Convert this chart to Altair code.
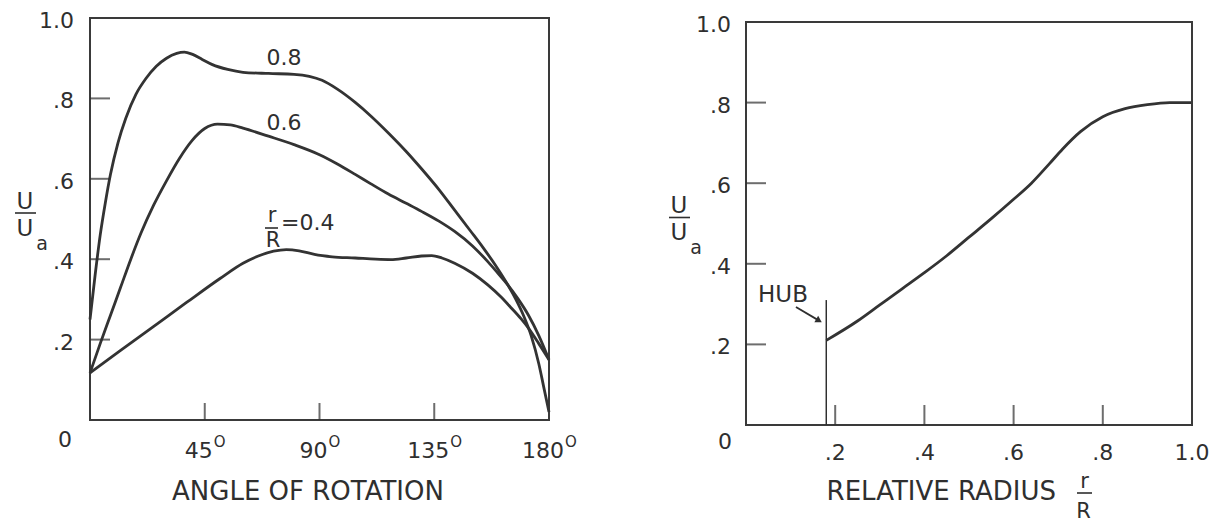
import altair as alt
import pandas as pd

FONT = "DejaVu Sans"
INK = "#2f2f2f"

# ---- left panel: velocity ratio around one revolution, three radii ----
angle_08 = [0, 2, 4, 6, 8, 11, 14, 18, 22, 26, 30, 34, 37, 40, 44, 48, 54, 60, 70,
            80, 86, 91, 97, 104, 110, 117, 124, 130, 137, 143, 149, 154, 159, 163,
            167, 170, 173, 176, 178, 180]
u_08 = [0.25, 0.36, 0.46, 0.54, 0.61, 0.69, 0.75, 0.81, 0.85, 0.88, 0.90, 0.912,
        0.915, 0.91, 0.897, 0.884, 0.872, 0.865, 0.862, 0.86, 0.855, 0.845, 0.823,
        0.79, 0.757, 0.714, 0.668, 0.625, 0.572, 0.522, 0.472, 0.43, 0.385, 0.345,
        0.30, 0.26, 0.21, 0.14, 0.08, 0.02]

angle_06 = [0, 4, 8, 12, 16, 20, 25, 30, 35, 40, 45, 50, 55, 60, 70, 80, 90, 97,
            104, 110, 117, 124, 130, 137, 143, 150, 156, 160, 164, 168, 172, 176, 180]
u_06 = [0.117, 0.19, 0.26, 0.33, 0.40, 0.465, 0.535, 0.595, 0.65, 0.695, 0.725,
        0.736, 0.734, 0.726, 0.706, 0.685, 0.66, 0.637, 0.611, 0.588, 0.562, 0.539,
        0.519, 0.494, 0.469, 0.433, 0.394, 0.365, 0.335, 0.30, 0.26, 0.21, 0.15]

angle_04 = [0, 12, 25, 38, 51, 60, 66, 72, 77, 82, 88, 95, 104, 112, 118, 124, 130,
            134, 138, 143, 150, 156, 161, 165, 169, 172, 176, 180]
u_04 = [0.117, 0.173, 0.233, 0.293, 0.352, 0.39, 0.408, 0.42, 0.424, 0.421, 0.412,
        0.406, 0.403, 0.40, 0.399, 0.403, 0.408, 0.409, 0.403, 0.39, 0.365, 0.336,
        0.307, 0.28, 0.252, 0.228, 0.19, 0.15]

# ---- right panel: velocity ratio along the blade ----
radius = [0.18, 0.25, 0.30, 0.35, 0.40, 0.45, 0.50, 0.55, 0.60, 0.64, 0.68, 0.71,
          0.75, 0.80, 0.85, 0.90, 0.95, 1.0]
u_radius = [0.21, 0.258, 0.298, 0.338, 0.378, 0.42, 0.466, 0.512, 0.56, 0.60, 0.648,
            0.685, 0.728, 0.765, 0.785, 0.795, 0.80, 0.80]
hub_radius = 0.18
hub_top = 0.31
hub_label_pos = [0.083, 0.305]
hub_arrow_r = [0.112, 0.1637]
hub_arrow_u = [0.293, 0.259]

# ---- tick values and labels ----
u_ticks = [0.2, 0.4, 0.6, 0.8, 1.0]
u_tick_labels = [".2", ".4", ".6", ".8", "1.0"]
angle_ticks = [45, 90, 135, 180]
angle_tick_labels = ["45", "90", "135", "180"]
radius_ticks = [0.2, 0.4, 0.6, 0.8, 1.0]
radius_tick_labels = [".2", ".4", ".6", ".8", "1.0"]

LEFT_W, LEFT_H = 459, 402
RIGHT_W, RIGHT_H = 446, 407
TICK_FS = 22
TITLE_FS = 26

x_ang = alt.Scale(domain=[0, 180], nice=False, zero=False)
x_rad = alt.Scale(domain=[0, 1], nice=False, zero=False)
y_u = alt.Scale(domain=[0, 1], nice=False, zero=False)
# the right-hand box sits a few pixels lower, so its scale leaves a sliver above 1.0
y_u_right = alt.Scale(domain=[0, 1.0099], nice=False, zero=False)

one = pd.DataFrame({"k": [0]})


def txt(text, size=20, **kw):
    return alt.Chart(one).mark_text(text=text, font=FONT, fontSize=size, color=INK,
                                    baseline="alphabetic", **kw)


def frac_bar(x, y, x_off, x2_off, y_off):
    return alt.Chart(one).mark_rule(color=INK, strokeWidth=1.6, xOffset=x_off,
                                    x2Offset=x2_off, yOffset=y_off).encode(
        x=alt.datum(x), x2=alt.datum(x), y=alt.datum(y))


def y_title(x_shift):
    # U over U_a, written as a stacked fraction left of the axis
    return [
        txt("U", 23, align="center", dx=-65 + x_shift, dy=-10).encode(
            x=alt.datum(0), y=alt.datum(0.5)),
        frac_bar(0, 0.5, -75 + x_shift, -54 + x_shift, -6),
        txt("U", 23, align="center", dx=-65 + x_shift, dy=17).encode(
            x=alt.datum(0), y=alt.datum(0.5)),
        txt("a", 19, align="center", dx=-48 + x_shift, dy=31).encode(
            x=alt.datum(0), y=alt.datum(0.5)),
    ]


def y_axis_parts(x_scale, y_scale, dx_label, dx_zero, dy_zero):
    ticks = pd.DataFrame({"v": u_ticks, "label": u_tick_labels})
    inner = ticks[ticks["v"] < 1]
    return [
        alt.Chart(inner).mark_tick(orient="horizontal", size=20, thickness=2,
                                   color=INK, xOffset=10).encode(
            x=alt.X(datum=0, scale=x_scale), y=alt.Y("v:Q", scale=y_scale, axis=None)),
        alt.Chart(ticks).mark_text(font=FONT, fontSize=TICK_FS, color=INK,
                                   align="right", baseline="alphabetic",
                                   dx=dx_label, dy=10).encode(
            x=alt.datum(0), y=alt.Y("v:Q", scale=y_scale, axis=None), text="label:N"),
        txt("0", TICK_FS, align="center", dx=dx_zero, dy=dy_zero).encode(
            x=alt.datum(0), y=alt.datum(0)),
    ]


# ---------------- left panel ----------------
curves = pd.concat([
    pd.DataFrame({"angle": angle_08, "u": u_08, "r": "0.8"}),
    pd.DataFrame({"angle": angle_06, "u": u_06, "r": "0.6"}),
    pd.DataFrame({"angle": angle_04, "u": u_04, "r": "0.4"}),
])

left_lines = alt.Chart(curves).mark_line(
    interpolate="monotone", color="#333333", strokeWidth=2.8
).encode(
    x=alt.X("angle:Q", scale=x_ang, axis=None),
    y=alt.Y("u:Q", scale=y_u, axis=None),
    detail="r:N",
)

ang_df = pd.DataFrame({"a": angle_ticks, "label": angle_tick_labels})
left_xticks = alt.Chart(ang_df[ang_df["a"] < 180]).mark_tick(
    orient="vertical", size=17, thickness=2, color=INK, yOffset=-8.5
).encode(x=alt.X("a:Q", scale=x_ang, axis=None), y=alt.datum(0))

left_xlabels = alt.Chart(ang_df).mark_text(
    font=FONT, fontSize=TICK_FS, color=INK, align="center", baseline="alphabetic",
    dx=-6, dy=38
).encode(x=alt.X("a:Q", scale=x_ang, axis=None), y=alt.datum(0), text="label:N")

deg_two = alt.Chart(ang_df).transform_filter("length(datum.label) == 2").mark_text(
    text="O", font=FONT, fontSize=15, color=INK, align="left", baseline="alphabetic",
    dx=9, dy=27
).encode(x=alt.X("a:Q", scale=x_ang, axis=None), y=alt.datum(0))

deg_three = alt.Chart(ang_df).transform_filter("length(datum.label) == 3").mark_text(
    text="O", font=FONT, fontSize=15, color=INK, align="left", baseline="alphabetic",
    dx=16, dy=27
).encode(x=alt.X("a:Q", scale=x_ang, axis=None), y=alt.datum(0))

left_title = txt("ANGLE OF ROTATION", TITLE_FS, align="center",
                 dx=-11.5, dy=80).encode(x=alt.datum(90), y=alt.datum(0))

curve_labels = [
    txt("0.8", 22, align="center", dx=-35.5, dy=47).encode(
        x=alt.datum(90), y=alt.datum(1)),
    txt("0.6", 22, align="center", dx=-35.5, dy=112).encode(
        x=alt.datum(90), y=alt.datum(1)),
    txt("r", 21, align="center", dx=-47.5, dy=3).encode(
        x=alt.datum(90), y=alt.datum(0.5)),
    frac_bar(90, 0.5, -54.5, -41.5, 9),
    txt("R", 21, align="center", dx=-46.5, dy=28).encode(
        x=alt.datum(90), y=alt.datum(0.5)),
    txt("=0.4", 22, align="left", dx=-38.5, dy=11).encode(
        x=alt.datum(90), y=alt.datum(0.5)),
]

left = alt.layer(
    left_lines, left_xticks, left_xlabels, deg_two, deg_three, left_title,
    *y_axis_parts(x_ang, y_u, -16, -25, 27), *y_title(0), *curve_labels,
).properties(width=LEFT_W, height=LEFT_H)

# ---------------- right panel ----------------
radial = pd.DataFrame({"rr": radius, "u": u_radius})
right_line = alt.Chart(radial).mark_line(
    interpolate="monotone", color="#333333", strokeWidth=2.8
).encode(
    x=alt.X("rr:Q", scale=x_rad, axis=None),
    y=alt.Y("u:Q", scale=y_u_right, axis=None),
)

# box drawn from the data range 0..1 on both scales
frame_style = dict(color="#3a3a3a", strokeWidth=2, strokeCap="square")
right_frame = [
    alt.Chart(one).mark_rule(**frame_style).encode(
        x=alt.datum(0), y=alt.datum(0), y2=alt.datum(1)),
    alt.Chart(one).mark_rule(**frame_style).encode(
        x=alt.datum(1), y=alt.datum(0), y2=alt.datum(1)),
    alt.Chart(one).mark_rule(**frame_style).encode(
        y=alt.datum(0), x=alt.datum(0), x2=alt.datum(1)),
    alt.Chart(one).mark_rule(**frame_style).encode(
        y=alt.datum(1), x=alt.datum(0), x2=alt.datum(1)),
]

rad_df = pd.DataFrame({"rr": radius_ticks, "label": radius_tick_labels})
right_xticks = alt.Chart(rad_df[rad_df["rr"] < 1]).mark_tick(
    orient="vertical", size=20, thickness=2, color=INK, yOffset=-10
).encode(x=alt.X("rr:Q", scale=x_rad, axis=None), y=alt.datum(0))

right_xlabels = alt.Chart(rad_df).mark_text(
    font=FONT, fontSize=TICK_FS, color=INK, align="center", baseline="alphabetic",
    dy=35
).encode(x=alt.X("rr:Q", scale=x_rad, axis=None), y=alt.datum(0), text="label:N")

right_title = [
    txt("RELATIVE RADIUS", TITLE_FS, align="right", dx=42.4, dy=75).encode(
        x=alt.datum(0.6), y=alt.datum(0)),
    txt("r", 21, align="center", dx=71, dy=63).encode(
        x=alt.datum(0.6), y=alt.datum(0)),
    frac_bar(0.6, 0, 63.4, 78.4, 68),
    txt("R", 21, align="center", dx=70, dy=93).encode(
        x=alt.datum(0.6), y=alt.datum(0)),
]

hub_line = alt.Chart(one).mark_rule(color=INK, strokeWidth=1.5).encode(
    x=alt.datum(hub_radius), y=alt.datum(0), y2=alt.datum(hub_top))
hub_arrow = alt.Chart(one).mark_rule(color=INK, strokeWidth=1.8).encode(
    x=alt.datum(hub_arrow_r[0]), x2=alt.datum(hub_arrow_r[1]),
    y=alt.datum(hub_arrow_u[0]), y2=alt.datum(hub_arrow_u[1]))
hub_head = alt.Chart(one).mark_point(
    shape="triangle-right", size=55, filled=True, color=INK, opacity=1, angle=31
).encode(x=alt.datum(hub_arrow_r[1]), y=alt.datum(hub_arrow_u[1]))
hub_text = txt("HUB", 23, align="center").encode(
    x=alt.datum(hub_label_pos[0]), y=alt.datum(hub_label_pos[1]))

right = alt.layer(
    right_line, *right_frame, right_xticks, right_xlabels, *right_title,
    hub_line, hub_arrow, hub_head, hub_text,
    *y_axis_parts(x_rad, y_u_right, -15, -21, 24), *y_title(-2),
).properties(width=RIGHT_W, height=RIGHT_H, view=alt.ViewBackground(stroke=None))

chart = alt.hconcat(left, right, spacing=90).properties(
    padding={"left": 13, "top": 9, "right": 2, "bottom": 2},
    background="white",
).configure_view(
    stroke="#3a3a3a", strokeWidth=2
).configure_axis(disable=True)

chart.save("out.html", embed_options={"renderer": "svg", "actions": False})
